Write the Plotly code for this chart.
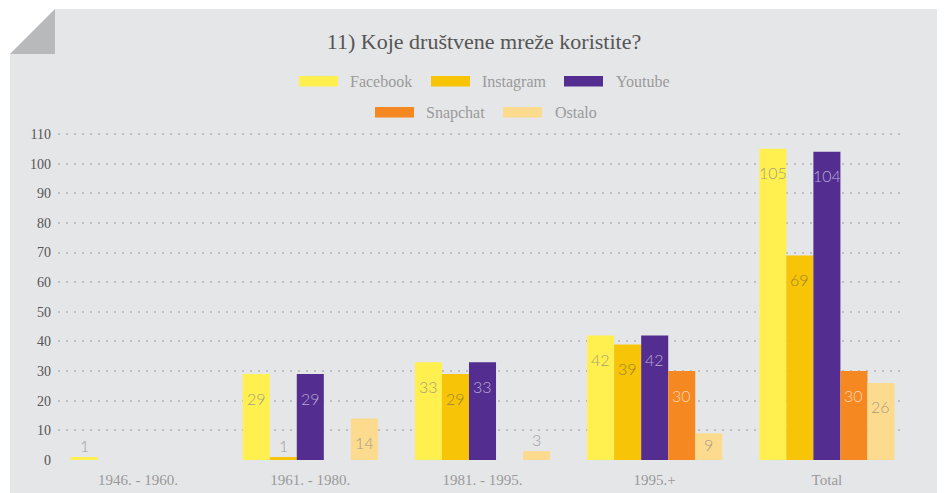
import plotly.graph_objects as go

# ---------------- data ----------------
categories = ["1946. - 1960.", "1961. - 1980.", "1981. - 1995.", "1995.+", "Total"]
series_names = ["Facebook", "Instagram", "Youtube", "Snapchat", "Ostalo"]
facebook = [1, 29, 33, 42, 105]
instagram = [0, 1, 29, 39, 69]
youtube = [0, 29, 33, 42, 104]
snapchat = [0, 0, 0, 30, 30]
ostalo = [0, 14, 3, 9, 26]
y_tick_values = [0, 10, 20, 30, 40, 50, 60, 70, 80, 90, 100, 110]
title_text = "11) Koje društvene mreže koristite?"

series_values = [facebook, instagram, youtube, snapchat, ostalo]

# ---------------- style ----------------
bar_colors = ["#FFF04F", "#F7C408", "#532D8F", "#F58820", "#FDDB8E"]
inside_label_colors = ["#A5A17C", "#A08426", "#B9AAD6", "#FCD7B8", "#A69E88"]
outside_label_color = "#A0A0A0"
panel_color = "#E5E6E8"
fold_color = "#B8B9BB"
grid_color = "#BEBFC1"
serif = "Liberation Serif"
sans = "Lato Light, Lato"

# page has an 8px body margin; work in screen pixels and convert
OFF = 8
SW, SH = 945, 493
W, H = SW - OFF, SH - OFF
# plot area in screen px
PL, PR, PT, PB = 58, 905, 130, 461
L, T = PL - OFF, PT - OFF
R, B = SW - PR, SH - PB
plot_w = PR - PL
plot_h = PB - PT
group_px = 172.2
x0 = -0.5 + 6 / group_px
x1 = x0 + plot_w / group_px
y_span = 111.69
y_per_px = y_span / plot_h
y0 = -1 * y_per_px
y1 = y0 + y_span
bargap = 0.215
bw = (1 - bargap) / len(series_names)


def pxx(px):
    return (px - PL) / plot_w


def pxy(py):
    return (PB - py) / plot_h


fig = go.Figure()
xs = list(range(len(categories)))
for j, (name, vals) in enumerate(zip(series_names, series_values)):
    fig.add_trace(go.Bar(
        x=xs, y=[v if v else None for v in vals], name=name,
        marker=dict(color=bar_colors[j], line=dict(width=0)),
        showlegend=False, hoverinfo="x+y+name",
    ))

annotations = []
px_per_unit = 1 / y_per_px
for j, vals in enumerate(series_values):
    for i, v in enumerate(vals):
        if not v:
            continue
        h = v * px_per_unit
        xc = i + (j - 2) * bw
        if h >= 38:
            annotations.append(dict(x=xc, y=v, text=str(v), showarrow=False,
                                    yanchor="middle", yshift=-24,
                                    font=dict(family=sans, size=16, color=inside_label_colors[j], weight=300)))
        elif h >= 20:
            annotations.append(dict(x=xc, y=v / 2, text=str(v), showarrow=False,
                                    yanchor="middle", yshift=2,
                                    font=dict(family=sans, size=16, color=inside_label_colors[j], weight=300)))
        else:
            annotations.append(dict(x=xc, y=v, text=str(v), showarrow=False,
                                    yanchor="bottom", yshift=0,
                                    font=dict(family=sans, size=16, color=outside_label_color, weight=300)))

# custom legend (wide swatches), screen px
legend_layout = [
    (299, 76, 348),
    (431, 76, 480),
    (564, 76, 614),
    (375, 107, 424),
    (503, 107, 553),
]
shapes = []
for j, (sx, sy, tx) in enumerate(legend_layout):
    shapes.append(dict(type="rect", xref="paper", yref="paper", layer="above",
                       x0=pxx(sx), x1=pxx(sx + 39), y0=pxy(sy), y1=pxy(sy + 10.5),
                       fillcolor=bar_colors[j], line=dict(width=0)))
    annotations.append(dict(xref="paper", yref="paper", x=pxx(tx), y=pxy(sy + 5.5),
                            xanchor="left", yanchor="middle", showarrow=False,
                            text=series_names[j],
                            font=dict(family=serif, size=16, color="#9A9A9A")))

# white page margins and folded corner (screen px)
shapes += [
    dict(type="rect", xref="paper", yref="paper", layer="below",
         x0=pxx(0), x1=pxx(10), y0=pxy(SH + 5), y1=pxy(0), fillcolor="white", line=dict(width=0)),
    dict(type="rect", xref="paper", yref="paper", layer="below",
         x0=pxx(0), x1=pxx(SW + 5), y0=pxy(9), y1=pxy(0), fillcolor="white", line=dict(width=0)),
    dict(type="path", xref="paper", yref="paper", layer="below",
         path=f"M {pxx(10)},{pxy(9)} L {pxx(55)},{pxy(9)} L {pxx(10)},{pxy(54)} Z",
         fillcolor="white", line=dict(width=0)),
    dict(type="path", xref="paper", yref="paper", layer="below",
         path=f"M {pxx(55)},{pxy(9)} L {pxx(55)},{pxy(54)} L {pxx(10)},{pxy(54)} Z",
         fillcolor=fold_color, line=dict(width=0)),
]

fig.update_layout(
    width=W, height=H, autosize=False,
    margin=dict(l=L, r=R, t=T, b=B, pad=0, autoexpand=False),
    paper_bgcolor=panel_color, plot_bgcolor="rgba(0,0,0,0)",
    barmode="group", bargap=bargap, bargroupgap=0,
    title=dict(text=title_text, x=(484 - OFF) / W, xanchor="center", y=1 - (41 - OFF) / H, yanchor="middle",
               font=dict(family=serif, size=22, color="#555555")),
    xaxis=dict(range=[x0, x1], tickvals=xs, ticktext=categories, showgrid=False, automargin=False,
               zeroline=False, showline=False, ticks="",
               tickfont=dict(family=serif, size=15, color="#9A9A9A"), ticklabelstandoff=8),
    yaxis=dict(range=[y0, y1], tickvals=y_tick_values, showgrid=True, gridcolor=grid_color, automargin=False,
               gridwidth=2, griddash="2px,6px", zeroline=False, showline=False, ticks="",
               tickfont=dict(family=serif, size=14, color="#555555"), ticklabelstandoff=6),
    shapes=shapes,
    annotations=annotations,
    showlegend=False,
)

fig.write_html("out.html")
